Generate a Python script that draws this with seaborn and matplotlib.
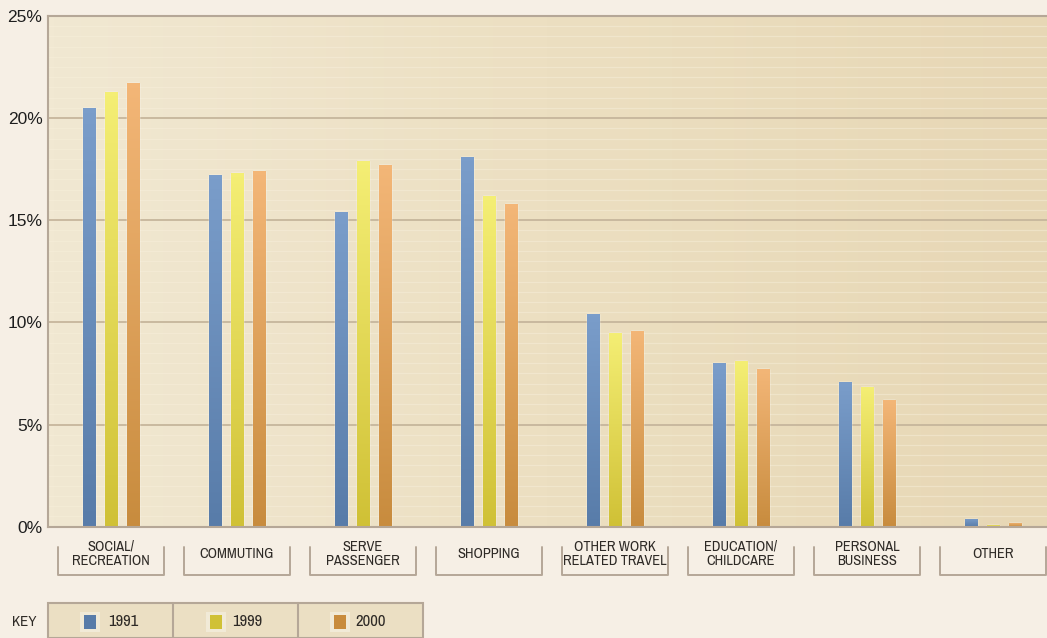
import numpy as np
import pandas as pd
import matplotlib
matplotlib.use("Agg")
import matplotlib.pyplot as plt
import seaborn as sns
import matplotlib.transforms as mtransforms
from matplotlib.patches import Rectangle
from matplotlib.lines import Line2D
from matplotlib.colors import LinearSegmentedColormap

# ---------------- data ----------------
categories = ["SOCIAL/\nRECREATION", "COMMUTING", "SERVE\nPASSENGER", "SHOPPING",
              "OTHER WORK\nRELATED TRAVEL", "EDUCATION/\nCHILDCARE",
              "PERSONAL\nBUSINESS", "OTHER"]
years = ["1991", "1999", "2000"]
v1991 = [20.5, 17.2, 15.4, 18.1, 10.4, 8.0, 7.1, 0.4]
v1999 = [21.3, 17.3, 17.9, 16.2, 9.5, 8.1, 6.85, 0.1]
v2000 = [21.7, 17.4, 17.7, 15.8, 9.6, 7.7, 6.2, 0.2]
yticks = [0, 5, 10, 15, 20, 25]
ytick_labels = ["0%", "5%", "10%", "15%", "20%", "25%"]

# ---------------- style ----------------
sns.set_theme(style="white")
plt.rcParams["font.family"] = ["Liberation Sans", "DejaVu Sans"]
NARROW = ["Archivo Narrow", "Roboto Condensed", "Liberation Sans Narrow", "DejaVu Sans"]

fig_bg = "#f6efe5"
palette = {"1991": "#6a8cb9", "1999": "#e4da58", "2000": "#e2a65c"}
grads = {"1991": ("#587ca9", "#7a9dca"),
         "1999": ("#d0c136", "#f4ee74"),
         "2000": ("#c88c3e", "#f3b677")}
line_col = "#b5a797"
text_col = "#2e2a26"

fig = plt.figure(figsize=(10.47, 6.38), dpi=100, facecolor=fig_bg)
ax = fig.add_axes([48 / 1047, 1 - 526.7 / 638, 1 - 48 / 1047, (526.7 - 16) / 638])
ax.set_facecolor("#ebdfc2")

df = pd.DataFrame({"category": categories, "1991": v1991, "1999": v1999, "2000": v2000})
long = df.melt(id_vars="category", var_name="year", value_name="share")

sns.barplot(data=long, x="category", y="share", hue="year", order=categories,
            hue_order=years, palette=palette, width=0.52, gap=0.44,
            errorbar=None, legend=False, saturation=1, ax=ax, zorder=3)

# vertical gradient inside each bar (clipped to the seaborn bar)
for yr, cont in zip(years, ax.containers):
    cmap = LinearSegmentedColormap.from_list("g" + yr, list(grads[yr]))
    for p in cont.patches:
        x0, w, h = p.get_x(), p.get_width(), p.get_height()
        if h <= 0:
            continue
        im = ax.imshow(np.linspace(0, 1, 64).reshape(-1, 1), cmap=cmap, origin="lower",
                       extent=[x0, x0 + w, 0, h], aspect="auto", zorder=3.5,
                       interpolation="bilinear")
        im.set_clip_path(p)

# plot-area background gradient (lighter left, darker right)
bg = np.linspace(0, 1, 256).reshape(1, -1)
bg_cmap = LinearSegmentedColormap.from_list("bg", ["#f1e8d2", "#ecdfc1", "#e7d7b5"])
ax.imshow(bg, cmap=bg_cmap, extent=[0, 1, 0, 1], transform=ax.transAxes,
          aspect="auto", zorder=0, interpolation="bilinear")

# faint stripes
for yv in np.arange(0.5, 25, 0.5):
    if abs(yv % 5) > 1e-6:
        ax.axhline(yv, color="#f8f0dc", lw=0.9, alpha=0.45, zorder=1)
# main gridlines
for yv in yticks[1:-1]:
    ax.axhline(yv, color="#c6b69c", lw=1.3, zorder=2)

ax.set_xlim(-0.5, 7.43)
ax.set_ylim(0, 25)
ax.set_yticks(yticks)
ax.set_yticklabels(ytick_labels, fontsize=12.5, color="#1e1e1e")
ax.tick_params(axis="y", length=0, pad=4)
ax.set_xticks([])
ax.set_xlabel("")
ax.set_ylabel("")
for s in ["left", "bottom", "top"]:
    ax.spines[s].set_color(line_col)
    ax.spines[s].set_linewidth(1.5)
    ax.spines[s].set_zorder(5)
ax.spines["right"].set_visible(False)

# category label boxes
blend = mtransforms.blended_transform_factory(ax.transData, fig.transFigure)
y_top = 1 - 547 / 638
y_bot = 1 - 575 / 638
y_txt = 1 - 554 / 638
hw = 0.423
for i, lab in enumerate(categories):
    ln = Line2D([i - hw, i - hw, i + hw, i + hw], [y_top, y_bot, y_bot, y_top],
                transform=blend, color=line_col, lw=1.4, clip_on=False)
    ax.add_line(ln)
    ax.text(i, y_txt, lab, transform=blend, ha="center", va="center",
            fontsize=10.4, family=NARROW, linespacing=1.05, color=text_col, clip_on=False)

# key
fx = lambda px: px / 1047
fy = lambda py: 1 - py / 638
fig.text(fx(24), fy(622), "KEY", ha="center", va="center", fontsize=10.8,
         family=NARROW, color=text_col)
fig.patches.append(Rectangle((fx(48), 0), fx(423) - fx(48), fy(603), transform=fig.transFigure,
                             facecolor="#ebdfc3", edgecolor=line_col, lw=1.5))
for xd in [173, 298]:
    fig.lines.append(Line2D([fx(xd), fx(xd)], [0, fy(603)], transform=fig.transFigure,
                            color=line_col, lw=1.5))
key_marker_x = [90, 216, 340]
key_text_x = [108, 232, 355]
for yr, mx, tx in zip(years, key_marker_x, key_text_x):
    halo = Rectangle((fx(mx - 10), fy(632)), fx(20), fy(612) - fy(632),
                     transform=fig.transFigure, facecolor="#ffffff", alpha=0.35,
                     edgecolor="none")
    core = Rectangle((fx(mx - 6), fy(629)), fx(12), fy(615) - fy(629),
                     transform=fig.transFigure, facecolor=grads[yr][0], edgecolor="none")
    fig.patches.append(halo)
    fig.patches.append(core)
    fig.text(fx(tx), fy(622), yr, ha="left", va="center", fontsize=12,
             family=NARROW, color=text_col)

fig.savefig("out.png", dpi=100, facecolor=fig_bg)
